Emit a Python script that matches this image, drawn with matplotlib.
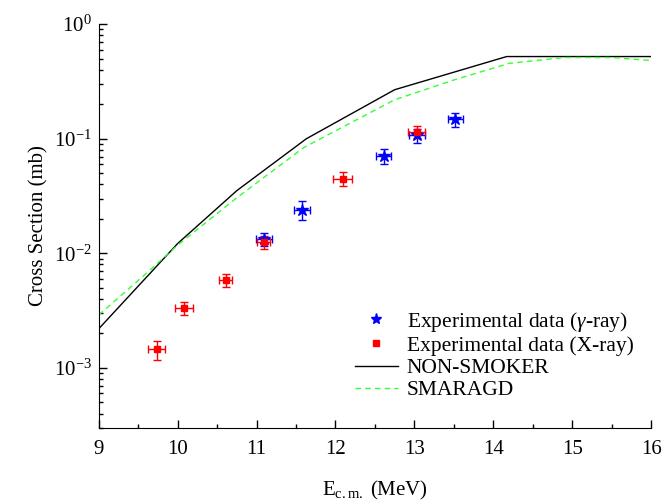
import numpy as np
import matplotlib
matplotlib.use('Agg')
import matplotlib.pyplot as plt
from matplotlib.lines import Line2D
from matplotlib.ticker import LogLocator, MultipleLocator, LogFormatterMathtext

plt.rcParams['font.family'] = ['Liberation Serif', 'DejaVu Serif']
plt.rcParams['mathtext.fontset'] = 'custom'
plt.rcParams['mathtext.rm'] = 'Liberation Serif'
plt.rcParams['mathtext.it'] = 'Liberation Serif:italic'

# experimental data, gamma-ray
gam_e = [11.09, 11.58, 12.61, 13.03, 13.52]
gam_s = [0.0133, 0.024, 0.071, 0.107, 0.148]
gam_de = [0.1, 0.1, 0.1, 0.1, 0.1]
gam_ds = [0.0018, 0.0045, 0.011, 0.015, 0.02]

# experimental data, X-ray
xr_e = [9.735, 10.08, 10.61, 11.09, 12.09, 13.03]
xr_s = [0.00145, 0.00335, 0.0058, 0.0126, 0.045, 0.115]
xr_de = [0.11, 0.11, 0.08, 0.08, 0.12, 0.11]
xr_ds = [0.00027, 0.00045, 0.00075, 0.0016, 0.006, 0.014]

# NON-SMOKER
ns_e = [9.0, 10.0, 10.75, 11.63, 12.75, 14.17, 16.0]
ns_s = [0.0022, 0.0122, 0.0353, 0.100, 0.268, 0.522, 0.522]

# SMARAGD
sm_e = [9.0, 9.5, 10.0, 10.75, 11.6, 12.75, 13.5, 14.2, 14.9, 15.5, 16.0]
sm_s = [0.0029, 0.0058, 0.0118, 0.0306, 0.084, 0.219, 0.326, 0.455, 0.512, 0.512, 0.482]

fig = plt.figure(figsize=(6.63, 5.04), dpi=100)
ax = fig.add_axes([0.149, 0.151, 0.833, 0.801])

ax.errorbar(gam_e, gam_s, xerr=gam_de, yerr=gam_ds, fmt='*', color='blue',
            ms=9, elinewidth=1, capsize=3)
ax.errorbar(xr_e, xr_s, xerr=xr_de, yerr=xr_ds, fmt='s', color='red',
            ms=5, elinewidth=1, capsize=3)
ax.plot(ns_e, ns_s, color='black', lw=1)
ax.plot(sm_e, sm_s, color='#33ff33', lw=1, ls=(0, (4, 3)))

ax.set_yscale('log')
ax.set_xlim(9, 16)
ax.set_ylim(3e-4, 1)
ax.xaxis.set_major_locator(MultipleLocator(1))
ax.xaxis.set_minor_locator(MultipleLocator(0.5))
ax.yaxis.set_major_locator(LogLocator(base=10))
ax.yaxis.set_minor_locator(LogLocator(base=10, subs=np.arange(2, 10)))
ax.yaxis.set_major_formatter(LogFormatterMathtext())
ax.tick_params(which='both', direction='in', labelsize=15)
ax.tick_params(which='major', length=6, width=1)
ax.tick_params(which='minor', length=3, width=1)
ax.tick_params(axis='x', pad=9)
ax.tick_params(axis='y', pad=5)
for s in ['top', 'right']:
    ax.spines[s].set_visible(False)

ax.set_xlabel('E$_{\\mathrm{c.m.}}$ (MeV)', fontsize=15, labelpad=14)
ax.set_ylabel('Cross Section (mb)', fontsize=15, labelpad=4)

handles = [
    Line2D([], [], ls='none', marker='*', color='blue', ms=8),
    Line2D([], [], ls='none', marker='s', color='red', ms=4),
    Line2D([], [], color='black', lw=1),
    Line2D([], [], color='#33ff33', lw=1, ls=(0, (4, 3))),
]
labels = ['Experimental data ($\\gamma$-ray)', 'Experimental data (X-ray)',
          'NON-SMOKER', 'SMARAGD']
ax.legend(handles, labels, loc='upper left', bbox_to_anchor=(0.519, 0.407),
          bbox_transform=fig.transFigure, frameon=False, fontsize=15.5,
          handlelength=2.0, handletextpad=0.4, labelspacing=0.1, borderpad=0)

fig.savefig('out.png', dpi=100)
